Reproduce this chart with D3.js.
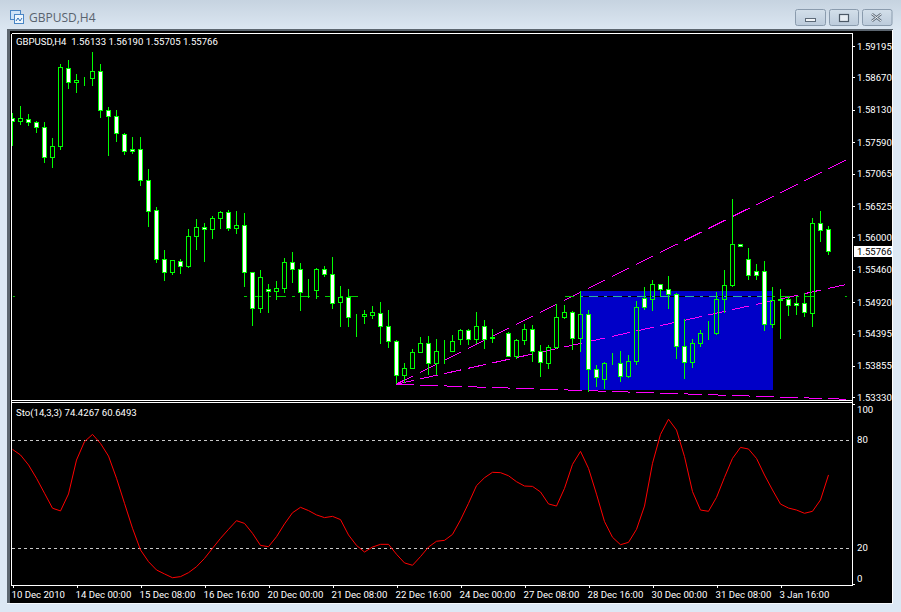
<!DOCTYPE html>
<html><head><meta charset="utf-8">
<script src="https://cdn.jsdelivr.net/npm/d3@7/dist/d3.min.js"></script>
<style>html,body{margin:0;padding:0;background:#dce8f4}svg{display:block}
text{font-family:Roboto,"Noto Sans",sans-serif}</style></head><body><svg id="c" width="901" height="612"></svg>
<script>
const highs=[1.58072,1.58193,1.58060,1.57943,1.57926,1.57659,1.58890,1.58956,1.58728,1.58673,1.59095,1.58895,1.58172,1.58127,1.57738,1.57676,1.57676,1.57142,1.56502,1.55789,1.55618,1.55634,1.56140,1.56307,1.56240,1.56357,1.56441,1.56457,1.56441,1.56407,1.55417,1.55456,1.55222,1.55272,1.55656,1.55756,1.55572,1.55305,1.55484,1.55522,1.55673,1.55189,1.55138,1.54716,1.54783,1.54850,1.54921,1.54788,1.54282,1.53898,1.54132,1.54337,1.54354,1.54304,1.54287,1.54371,1.54471,1.54471,1.54754,1.54621,1.54466,1.54332,1.54416,1.54299,1.54549,1.54532,1.54204,1.54199,1.54883,1.54866,1.54766,1.55100,1.54788,1.53865,1.53920,1.54065,1.54103,1.54032,1.54933,1.55167,1.55289,1.55217,1.55356,1.55067,1.54633,1.54299,1.54454,1.54599,1.55083,1.55456,1.56641,1.55885,1.55818,1.55556,1.55606,1.55167,1.55138,1.55000,1.55022,1.55067,1.56319,1.56441,1.56190];
const lows=[1.57531,1.57876,1.57860,1.57748,1.57247,1.57163,1.57464,1.58482,1.58415,1.58532,1.58532,1.57998,1.57364,1.57597,1.57380,1.57397,1.56863,1.56178,1.55578,1.55277,1.55377,1.55394,1.55494,1.55794,1.55594,1.55978,1.56145,1.56107,1.56062,1.55177,1.54526,1.54743,1.54743,1.54960,1.55077,1.55244,1.54776,1.54983,1.54977,1.55344,1.54810,1.54509,1.54509,1.54342,1.54559,1.54643,1.54225,1.54159,1.53547,1.53574,1.53815,1.54070,1.53703,1.53703,1.53891,1.54087,1.54204,1.54204,1.54220,1.54137,1.54237,1.54332,1.54015,1.53975,1.54204,1.53925,1.53674,1.53808,1.54132,1.54643,1.54125,1.54092,1.53424,1.53502,1.53469,1.53865,1.53586,1.53653,1.53870,1.54793,1.54776,1.55010,1.54810,1.53970,1.53641,1.53825,1.54165,1.54287,1.54366,1.54743,1.55177,1.55851,1.55289,1.55289,1.54442,1.54492,1.54304,1.54693,1.54709,1.54676,1.54509,1.55928,1.55705];
const opens=[1.57988,1.57931,1.57971,1.57921,1.57838,1.57337,1.57514,1.58823,1.58589,1.58632,1.58656,1.58773,1.58122,1.58021,1.57721,1.57471,1.57471,1.56953,1.56452,1.55634,1.55417,1.55601,1.55511,1.56018,1.56168,1.56135,1.56319,1.56419,1.56152,1.56202,1.55417,1.54816,1.55133,1.55100,1.55150,1.55584,1.55467,1.55083,1.55117,1.55467,1.55384,1.54916,1.55000,1.54671,1.54683,1.54699,1.54733,1.54516,1.54265,1.53698,1.53815,1.54082,1.54232,1.53898,1.54098,1.54098,1.54299,1.54449,1.54299,1.54516,1.54332,1.54332,1.54399,1.54015,1.54282,1.54466,1.54098,1.53898,1.54165,1.54666,1.54749,1.54315,1.54716,1.53798,1.53641,1.53898,1.53898,1.53674,1.53936,1.54983,1.54967,1.55217,1.55133,1.55050,1.54182,1.53915,1.54232,1.54409,1.54399,1.54967,1.55200,1.55885,1.55634,1.55434,1.55434,1.54549,1.54967,1.54967,1.54900,1.54900,1.54733,1.56235,1.56133];
const closes=[1.57931,1.57988,1.57915,1.57838,1.57337,1.57521,1.58839,1.58589,1.58622,1.58632,1.58773,1.58122,1.58021,1.57738,1.57437,1.57437,1.56953,1.56436,1.55634,1.55417,1.55618,1.55517,1.56018,1.56168,1.56135,1.56319,1.56419,1.56145,1.56202,1.55417,1.54816,1.55334,1.55100,1.55150,1.55584,1.55467,1.55083,1.55083,1.55467,1.55384,1.54900,1.55000,1.54666,1.54671,1.54716,1.54749,1.54516,1.54265,1.53698,1.53815,1.54082,1.54232,1.53898,1.54098,1.54098,1.54265,1.54449,1.54299,1.54516,1.54299,1.54315,1.54332,1.54015,1.54282,1.54466,1.54098,1.53915,1.54165,1.54666,1.54749,1.54315,1.54716,1.53798,1.53664,1.53903,1.53898,1.53674,1.53932,1.54833,1.54833,1.55217,1.55133,1.55050,1.54182,1.53915,1.54232,1.54399,1.54409,1.54967,1.55200,1.55885,1.55851,1.55367,1.55367,1.54549,1.54950,1.54950,1.54866,1.54866,1.54749,1.56235,1.56118,1.55766];
const stoch=[74.8,71.7,66.2,58.8,50.5,42.2,40.7,50.1,68.9,79.1,83.1,78.1,71.1,58.8,44.9,31.1,19.1,12.6,8.0,5.8,3.7,4.3,6.5,9.8,14.4,20,25.5,30.5,35.3,33.8,28.3,21.6,20.9,26.4,33.5,39.7,42.7,40.9,38.5,37,37.7,35.9,27.4,21.6,17.95,20.7,22.2,22.2,16.7,11.9,10.6,15.4,20.7,23.9,24.4,27.7,35.7,44.9,54.7,59.1,62.1,61.9,60.2,56.9,54.5,54.3,51.2,44.6,43.4,53.2,66.5,73.7,64.3,50,34.8,26.1,22,23.3,30.5,43.4,67.1,83.1,91.5,85.5,70.8,51.4,41.2,40.5,48.2,59.3,69.8,75.9,75,69.8,60.6,52.3,44.5,42.3,41.2,39.4,40.5,46.8,60.65];
const priceTicks=[1.59195,1.58670,1.58130,1.57590,1.57065,1.56525,1.56000,1.55460,1.54920,1.54395,1.53855,1.53330];
const stochTicks=[100,80,20,0];
const timeTicks=[0,8,16,24,32,40,48,56,64,72,80,88,96];
const timeLabels=["10 Dec 2010","14 Dec 00:00","15 Dec 08:00","16 Dec 16:00","20 Dec 00:00","21 Dec 08:00","22 Dec 16:00","24 Dec 00:00","27 Dec 08:00","28 Dec 16:00","30 Dec 00:00","31 Dec 08:00","3 Jan 16:00"];
const fanApex={bar:47.94,price:1.53547};
const fanEndBar=104.3;
const fanEnds=[1.57300,1.55217,1.53297];
const zone={from:70.94,to:95,top:1.55105,bottom:1.53452};
const hLevel=1.55015;
const hSpansGreen=[[0.06,0.3],[28.9,43.2],[69.06,70.94],[95,100.2],[104.06,104.3]];
const title="GBPUSD,H4";
const header="GBPUSD,H4  1.56133 1.56190 1.55705 1.55766";
const stochHeader="Sto(14,3,3) 74.4267 60.6493";
const lastPrice=1.55766;

const svg=d3.select("#c");
const x=d3.scaleLinear([0,102],[12.5,828.5]);
const y=d3.scaleLinear([1.5333,1.59195],[397.3,46]);
const ys=d3.scaleLinear([0,100],[584.4,403.9]);
const FS=9.6;

// window chrome
const defs=svg.append("defs");
const g0=defs.append("linearGradient").attr("id","tb").attr("x1",0).attr("x2",0).attr("y1",0).attr("y2",1);
g0.append("stop").attr("offset",0).attr("stop-color","#c6d3e0");
g0.append("stop").attr("offset",1).attr("stop-color","#dce7f2");
const gb=defs.append("linearGradient").attr("id","btn").attr("x1",0).attr("x2",0).attr("y1",0).attr("y2",1);
gb.append("stop").attr("offset",0).attr("stop-color","#d3dfea");
gb.append("stop").attr("offset",1).attr("stop-color","#bccbdb");
defs.append("clipPath").attr("id","pane").append("rect").attr("x",12).attr("y",34).attr("width",840).attr("height",366);
svg.append("rect").attr("width",901).attr("height",612).attr("fill","#dce8f4");
svg.append("rect").attr("width",901).attr("height",30).attr("fill","url(#tb)");
svg.append("rect").attr("x",7).attr("y",29).attr("width",886).attr("height",574).attr("fill","#5c6670");
svg.append("rect").attr("x",10).attr("y",31).attr("width",882).attr("height",572).attr("fill","#000");
svg.append("rect").attr("x",892).attr("y",30).attr("width",1).attr("height",573).attr("fill","#fff");
svg.append("rect").attr("x",7).attr("y",603).attr("width",886).attr("height",1).attr("fill","#f4f8fc");
// icon
const ic=svg.append("g");
ic.append("rect").attr("x",10.5).attr("y",10.5).attr("width",10).attr("height",9).attr("fill","#cfe3f7").attr("stroke","#4a86c5");
ic.append("rect").attr("x",14.5).attr("y",14.5).attr("width",9).attr("height",9).attr("fill","#eef6fd").attr("stroke","#4a86c5");
ic.append("path").attr("d","M16 21l2-3 2 3 2-3").attr("fill","none").attr("stroke","#2f6fb5");
svg.append("text").attr("x",29).attr("y",22).attr("font-size",12).attr("fill","#59636e").style("font-family","'Open Sans'").text(title);
// window buttons
[[795.5,30],[829.5,29],[862.5,29.5]].forEach(b=>{
  svg.append("rect").attr("x",b[0]).attr("y",9.5).attr("width",b[1]).attr("height",16).attr("rx",2).attr("fill","url(#btn)").attr("stroke","#8a9bad");
});
svg.append("rect").attr("x",805.5).attr("y",18.5).attr("width",10).attr("height",3).attr("fill","#f0f4f8").attr("stroke","#5d6a78");
svg.append("rect").attr("x",839.5).attr("y",14.5).attr("width",9).attr("height",7).attr("fill","#e8eef4").attr("stroke","#4c5967").attr("stroke-width",1.2);
svg.append("path").attr("d","M872 14l9 7M881 14l-9 7").attr("stroke","#5d6a78").attr("stroke-width",2.6);
svg.append("path").attr("d","M872 14l9 7M881 14l-9 7").attr("stroke","#f2f5f8").attr("stroke-width",1);

// price pane
const pane=svg.append("g").attr("clip-path","url(#pane)");
pane.append("rect").attr("x",x(zone.from)).attr("y",y(zone.top)).attr("width",x(zone.to)-x(zone.from)).attr("height",y(zone.bottom)-y(zone.top)).attr("fill","#0000c8").attr("shape-rendering","crispEdges");
// fan lines
const ax=x(fanApex.bar),ay=y(fanApex.price);
pane.selectAll("line.fan").data(fanEnds).join("line").attr("class","fan")
 .attr("x1",ax).attr("y1",ay).attr("x2",x(fanEndBar)).attr("y2",d=>y(d))
 .attr("stroke","#ff00ff").attr("stroke-width",1).attr("shape-rendering","crispEdges")
 .attr("stroke-dasharray",d=>{const dx=x(fanEndBar)-ax,dy=y(d)-ay,k=Math.hypot(dx,dy)/dx;return (17.5*k)+" "+(6.5*k);});
// horizontal dash-dot line
const hy=Math.floor(y(hLevel))+.5, PHASE=589;
const dashOff=a=>((a-PHASE)%24+24)%24;
pane.append("line").attr("x1",x(zone.from)).attr("x2",x(zone.to)).attr("y1",hy).attr("y2",hy).attr("stroke","#000");
pane.selectAll("line.hg").data(hSpansGreen).join("line").attr("class","hg")
 .attr("x1",d=>x(d[0])).attr("x2",d=>x(d[1])).attr("y1",hy).attr("y2",hy)
 .attr("stroke","#00d000").attr("stroke-dasharray","9 6 3 6").attr("stroke-dashoffset",d=>dashOff(x(d[0])));
pane.append("line").attr("x1",x(zone.from)).attr("x2",x(zone.to)).attr("y1",hy).attr("y2",hy)
 .attr("stroke","#2fb09a").attr("stroke-dasharray","9 6 3 6").attr("stroke-dashoffset",dashOff(x(zone.from)));
// candles
const idx=d3.range(highs.length);
const cg=pane.selectAll("g.cd").data(idx).join("g").attr("class","cd").attr("shape-rendering","crispEdges");
const GREEN="#00ff00";
cg.append("path").attr("fill","none").attr("stroke",GREEN).attr("d",i=>{
  const c=x(i),t=Math.max(opens[i],closes[i]),b=Math.min(opens[i],closes[i]);
  return `M${c},${y(highs[i])}V${y(t)}M${c},${y(b)}V${y(lows[i])}`;});
cg.append("rect").attr("x",i=>x(i)-2).attr("width",4)
 .attr("y",i=>Math.round(y(Math.max(opens[i],closes[i])))+.5)
 .attr("height",i=>Math.max(Math.abs(y(opens[i])-y(closes[i])),0))
 .attr("fill",i=>closes[i]<opens[i]?"#fff":"none").attr("stroke",GREEN);

// frame
const frame=svg.append("g").attr("stroke","#fff").attr("shape-rendering","crispEdges");
[[11.5,33.5,852.5,33.5],[11.5,33.5,11.5,585.5],[852.5,33.5,852.5,585.5],[11.5,585.5,852.5,585.5],[11.5,400.5,852.5,400.5],[11.5,402.5,852.5,402.5]]
 .forEach(l=>frame.append("line").attr("x1",l[0]).attr("y1",l[1]).attr("x2",l[2]).attr("y2",l[3]));

// price axis
const pa=svg.append("g").attr("transform","translate(852,0)")
 .call(d3.axisRight(y).tickValues(priceTicks).tickFormat(d3.format(".5f")).tickSize(3).tickPadding(2));
pa.select(".domain").remove();
pa.selectAll("line").attr("stroke","#fff").attr("shape-rendering","crispEdges");
pa.selectAll("text").attr("fill","#fff").attr("font-size",FS).style("font-family","Roboto");
// last price flag
svg.append("rect").attr("x",854).attr("y",246).attr("width",38).attr("height",11).attr("fill","#fff");
svg.append("text").attr("x",857).attr("y",y(lastPrice)).attr("dy","0.35em").attr("fill","#000").attr("font-size",FS).text(d3.format(".5f")(lastPrice));

svg.append("text").attr("x",16).attr("y",45).attr("fill","#fff").attr("font-size",FS).attr("xml:space","preserve").style("white-space","pre").text(header);

// stochastic pane
const levels=[80,20];
svg.selectAll("line.lv").data(levels).join("line").attr("class","lv")
 .attr("x1",12).attr("x2",852).attr("y1",d=>Math.floor(ys(d))+.5).attr("y2",d=>Math.floor(ys(d))+.5)
 .attr("stroke","#c8c8c8").attr("stroke-dasharray","3 3");
svg.append("path").datum(stoch).attr("fill","none").attr("stroke","#ff0000").attr("stroke-width",1)
 .attr("d",d3.line().x((d,i)=>x(i)).y(d=>ys(d)));
svg.append("text").attr("x",16).attr("y",416).attr("fill","#fff").attr("font-size",FS).text(stochHeader);
const sa=svg.append("g").attr("transform","translate(852,0)")
 .call(d3.axisRight(ys).tickValues(stochTicks).tickSize(3).tickPadding(2));
sa.select(".domain").remove();
sa.selectAll("line").attr("stroke","#fff").attr("shape-rendering","crispEdges").attr("opacity",d=>(d==100||d==0)?1:0);
const sOff={100:5,80:-1,20:-1,0:-6.5};
sa.selectAll("text").attr("fill","#fff").attr("font-size",FS).style("font-family","Roboto").attr("dy",d=>(sOff[d]+3.3)+"px");

// time axis
const ta=svg.append("g").attr("transform","translate(0,585)")
 .call(d3.axisBottom(x).tickValues(timeTicks).tickFormat((d,i)=>timeLabels[i]).tickSize(3).tickPadding(3));
ta.select(".domain").remove();
ta.selectAll("line").attr("stroke","#fff").attr("shape-rendering","crispEdges");
ta.selectAll("text").attr("fill","#fff").attr("font-size",FS).style("font-family","Roboto").attr("text-anchor","start").attr("x",-1.5);
</script></body></html>
